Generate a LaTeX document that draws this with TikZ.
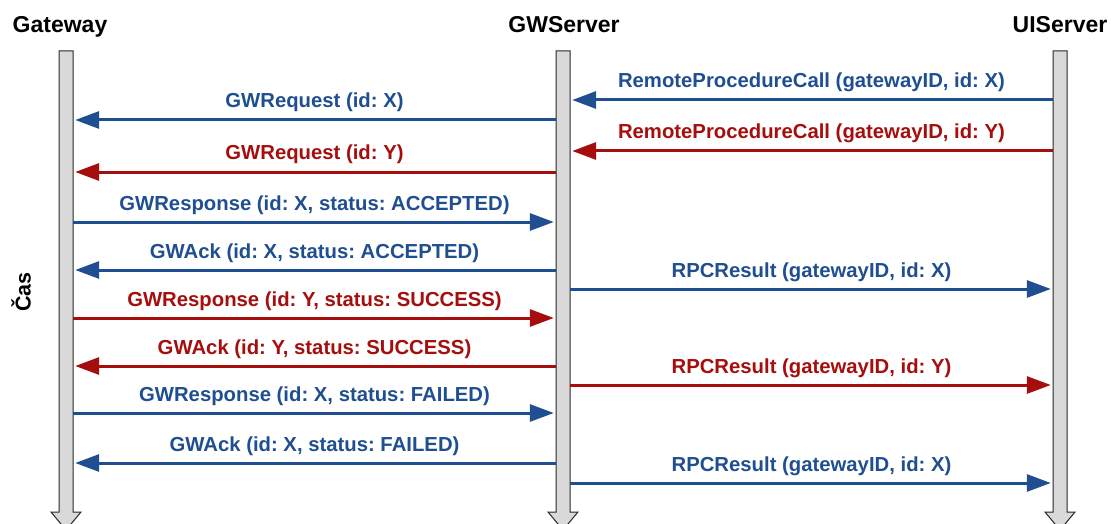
\documentclass[tikz,border=0pt]{standalone}
\usepackage{fontspec}
\setmainfont{Liberation Sans}
\usetikzlibrary{arrows.meta,calc}
\frenchspacing

\definecolor{msgblue}{RGB}{31,78,145}
\definecolor{msgred}{RGB}{166,14,14}
\definecolor{barfill}{RGB}{217,217,217}
\definecolor{barline}{RGB}{40,40,40}

\tikzset{
  header/.style={font=\bfseries\fontsize{23}{27}\selectfont, anchor=base, inner sep=0pt},
  lbl/.style={font=\bfseries\fontsize{20.3}{24}\selectfont, anchor=base, inner sep=0pt, yshift=12pt},
  msg/.style={line width=3pt, -{Triangle[length=24pt,width=17pt]}, shorten >=2pt},
  bluemsg/.style={msg, draw=msgblue, text=msgblue},
  redmsg/.style={msg, draw=msgred, text=msgred},
  lifebar/.style={draw=barline, fill=barfill, line width=1pt, line join=miter},
  barnode/.style={inner sep=0pt, minimum width=14pt, minimum height=461pt}
}

% time-line bar ending in an arrow head
\newcommand\lifeline[2]{%
  \node[barnode] (#1) at (#2,281.5) {};
  \draw[lifebar] ({#2-7},51) -- ({#2+7},51) -- ({#2+7},512) -- ({#2+15},512)
    -- (#2,530) -- ({#2-15},512) -- ({#2-7},512) -- cycle;
}

\begin{document}
\begin{tikzpicture}[x=1pt,y=-1pt]
\useasboundingbox (0,0) rectangle (1111,524);

\lifeline{gw}{66}
\lifeline{srv}{563}
\lifeline{ui}{1060}

\node[header] (hgw) at (60,33) {Gateway};
\node[header] (hsrv) at (564,33) {GWServer};
\node[header] (hui) at (1060,33) {UIServer};

\node[font=\bfseries\fontsize{21.5}{25}\selectfont, rotate=90, inner sep=0pt] (cas) at (21,292) {Čas};

% message rows
\coordinate (r1) at (0,100);
\coordinate (r2) at (0,120);
\coordinate (r3) at (0,151);
\coordinate (r4) at (0,172);
\coordinate (r5) at (0,222);
\coordinate (r6) at (0,270);
\coordinate (r7) at (0,289);
\coordinate (r8) at (0,318);
\coordinate (r9) at (0,366);
\coordinate (r10) at (0,385);
\coordinate (r11) at (0,413);
\coordinate (r12) at (0,463);
\coordinate (r13) at (0,483);

\draw[bluemsg] (ui.west |- r1) -- node[lbl] {RemoteProcedureCall (gatewayID, id: X)} (srv.east |- r1);
\draw[bluemsg] (srv.west |- r2) -- node[lbl] {GWRequest (id: X)} (gw.east |- r2);
\draw[redmsg] (ui.west |- r3) -- node[lbl] {RemoteProcedureCall (gatewayID, id: Y)} (srv.east |- r3);
\draw[redmsg] (srv.west |- r4) -- node[lbl] {GWRequest (id: Y)} (gw.east |- r4);
\draw[bluemsg] (gw.east |- r5) -- node[lbl] {GWResponse (id: X, status: ACCEPTED)} (srv.west |- r5);
\draw[bluemsg] (srv.west |- r6) -- node[lbl] {GWAck (id: X, status: ACCEPTED)} (gw.east |- r6);
\draw[bluemsg] (srv.east |- r7) -- node[lbl] {RPCResult (gatewayID, id: X)} (ui.west |- r7);
\draw[redmsg] (gw.east |- r8) -- node[lbl] {GWResponse (id: Y, status: SUCCESS)} (srv.west |- r8);
\draw[redmsg] (srv.west |- r9) -- node[lbl] {GWAck (id: Y, status: SUCCESS)} (gw.east |- r9);
\draw[redmsg] (srv.east |- r10) -- node[lbl] {RPCResult (gatewayID, id: Y)} (ui.west |- r10);
\draw[bluemsg] (gw.east |- r11) -- node[lbl] {GWResponse (id: X, status: FAILED)} (srv.west |- r11);
\draw[bluemsg] (srv.west |- r12) -- node[lbl] {GWAck (id: X, status: FAILED)} (gw.east |- r12);
\draw[bluemsg] (srv.east |- r13) -- node[lbl] {RPCResult (gatewayID, id: X)} (ui.west |- r13);
\end{tikzpicture}
\end{document}
